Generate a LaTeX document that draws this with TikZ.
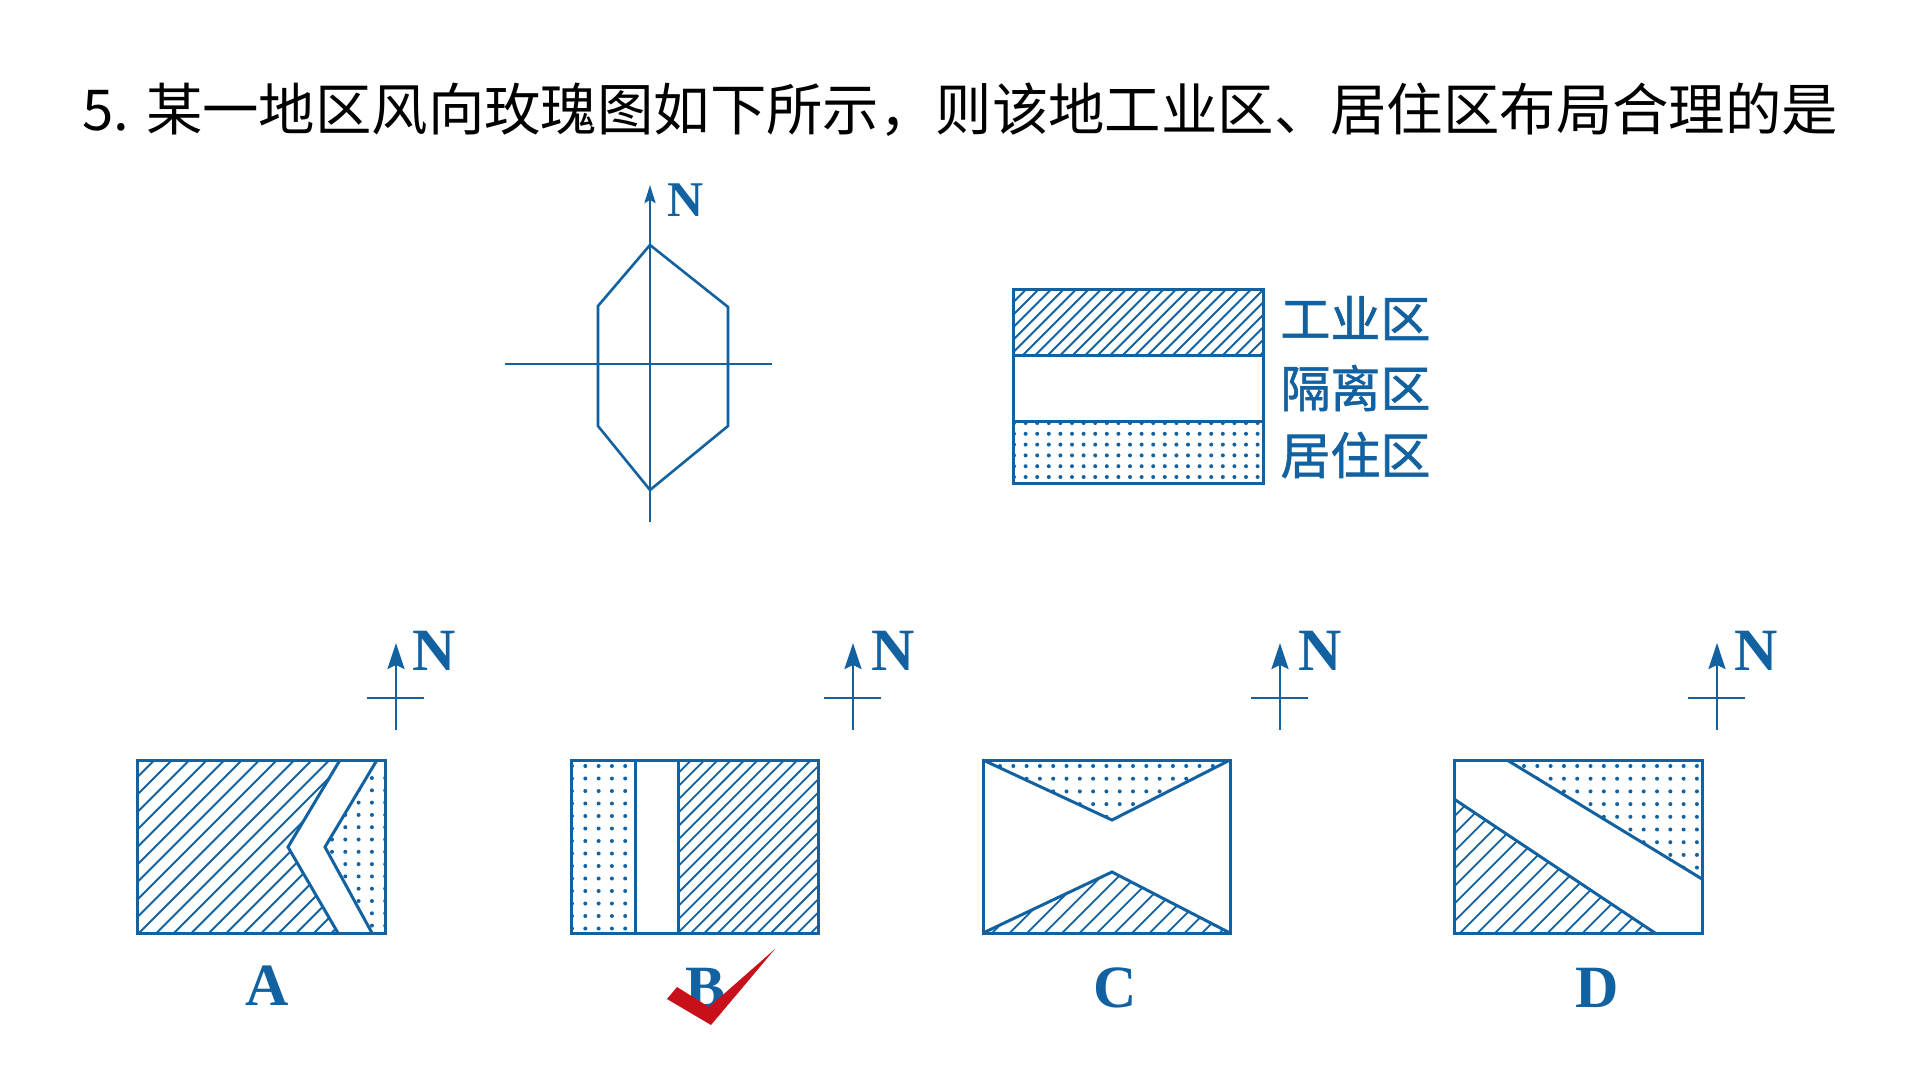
\documentclass[tikz,border=0pt]{standalone}
\usepackage{fontspec}
\newfontfamily\cjk{Noto Sans CJK SC}
\newfontfamily\cjkb[FakeBold=1.2]{Noto Sans CJK SC}
\newfontfamily\tnr{Liberation Serif}
\usetikzlibrary{arrows.meta}
\definecolor{bl}{HTML}{1261A0}
\definecolor{ck}{HTML}{C8101A}
\tikzset{
  ln/.style={draw=bl, line width=1.5pt, line join=miter},
  hl/.style={draw=bl, line width=0.9pt},
  ax/.style={draw=bl, line width=1.3pt},
  lbl/.style={text=bl, inner sep=0pt, anchor=base, font=\tnr\bfseries\fontsize{30pt}{32pt}\selectfont},
  zn/.style={text=bl, inner sep=0pt, anchor=west, font=\cjkb\fontsize{25pt}{27pt}\selectfont},
  narrow/.style={ax, -{Stealth[length=13pt,width=8.5pt,inset=2pt]}}
}
\newcommand\hatchin[5]{%
  \foreach \k in {0,...,90}{\draw[hl] ({#1-(#4-#2)+\k*#5},#4) -- ++({#4-#2},{-(#4-#2)});}}
\newcommand\dotsin[6]{%
  \foreach \i in {0,...,25}{\foreach \j in {0,...,20}{\fill[bl] ({#1+\i*#5},{#2+\j*#6}) circle (1pt);}}}
\newcommand\compass[3]{% x, N-name, label x
  \draw[narrow] (#1,730) -- (#1,643);
  \draw[ax] ({#1-29},698) -- ({#1+28},698);
  \node[lbl] (#2) at (#3,670) {N};}
\begin{document}
\begin{tikzpicture}[x=0.5pt,y=-0.5pt]
\useasboundingbox (0,0) rectangle (1920,1080);
% title
\node[anchor=base west, inner sep=0pt, font=\cjk\fontsize{28.2pt}{30pt}\selectfont] (title) at (82,131)
  {5. 某一地区风向玫瑰图如下所示，则该地工业区、居住区布局合理的是};
% wind rose
\draw[ax, -{Stealth[length=9pt,width=5.5pt,inset=1.5pt]}] (650,522) -- (650,185);
\draw[ax] (505,364) -- (772,364);
\draw[ax] (650,245) -- (598,306) -- (598,426) -- (650,490) -- (728,426) -- (728,307) -- cycle;
\node[lbl, font=\tnr\bfseries\fontsize{25pt}{27pt}\selectfont] (roseN) at (686,217) {N};
% legend
\begin{scope}
  \clip (1013,290) rectangle (1263,356);
  \hatchin{1013}{290}{1263}{356}{12.5}
\end{scope}
\begin{scope}
  \clip (1013,421) rectangle (1263,483);
  \dotsin{1014}{423}{1263}{483}{11.6}{10.8}
\end{scope}
\draw[ln] (1013,290) rectangle (1263,483);
\draw[ln] (1013,356) -- (1263,356);
\draw[ln] (1013,421) -- (1263,421);
\node[zn] (ind) at (1280,318) {工业区};
\node[zn] (iso) at (1280,388) {隔离区};
\node[zn] (res) at (1280,455) {居住区};
% ---- A ----
\begin{scope}
  \clip (137,760) -- (340,760) -- (288,847) -- (338,933) -- (137,933) -- cycle;
  \hatchin{137}{760}{385}{933}{17.5}
\end{scope}
\begin{scope}
  \clip (377,760) -- (385,760) -- (385,933) -- (372,933) -- (325,847) -- cycle;
  \dotsin{332}{778}{385}{933}{13.3}{12.3}
\end{scope}
\draw[ln] (340,760) -- (288,847) -- (338,933);
\draw[ln] (377,760) -- (325,847) -- (372,933);
\draw[ln] (137,760) rectangle (385,933);
\compass{396}{nA}{434}
\node[lbl] (labA) at (267,1005) {A};
% ---- B ----
\begin{scope}
  \clip (571,760) rectangle (635,933);
  \dotsin{572}{766}{635}{933}{13.3}{12.5}
\end{scope}
\begin{scope}
  \clip (678,760) rectangle (818,933);
  \hatchin{678}{760}{818}{933}{13.3}
\end{scope}
\draw[ln] (571,760) rectangle (818,933);
\draw[ln] (635,760) -- (635,933);
\draw[ln] (678,760) -- (678,933);
\compass{853}{nB}{893}
\node[lbl] (labB) at (705,1007) {B};
\fill[ck] (667,999) -- (677,987) -- (709,1007) -- (775,949) -- (711,1025) -- cycle;
% ---- C ----
\begin{scope}
  \clip (983,760) -- (1112,820) -- (1230,760) -- cycle;
  \dotsin{1000}{766}{1230}{820}{13.3}{12.7}
\end{scope}
\begin{scope}
  \clip (983,933) -- (1112,872) -- (1230,933) -- cycle;
  \hatchin{983}{872}{1230}{933}{17.5}
\end{scope}
\draw[ln] (983,760) -- (1112,820) -- (1230,760);
\draw[ln] (983,933) -- (1112,872) -- (1230,933);
\draw[ln] (983,760) rectangle (1230,933);
\compass{1280}{nC}{1320}
\node[lbl] (labC) at (1115,1007) {C};
% ---- D ----
\begin{scope}
  \clip (1507,760) -- (1702,760) -- (1702,879) -- cycle;
  \dotsin{1524}{766}{1702}{879}{13.3}{12.7}
\end{scope}
\begin{scope}
  \clip (1454,799) -- (1655,933) -- (1454,933) -- cycle;
  \hatchin{1454}{799}{1655}{933}{17.5}
\end{scope}
\draw[ln] (1507,760) -- (1702,879);
\draw[ln] (1454,799) -- (1655,933);
\draw[ln] (1454,760) rectangle (1702,933);
\compass{1717}{nD}{1756}
\node[lbl] (labD) at (1597,1007) {D};
\end{tikzpicture}
\end{document}
